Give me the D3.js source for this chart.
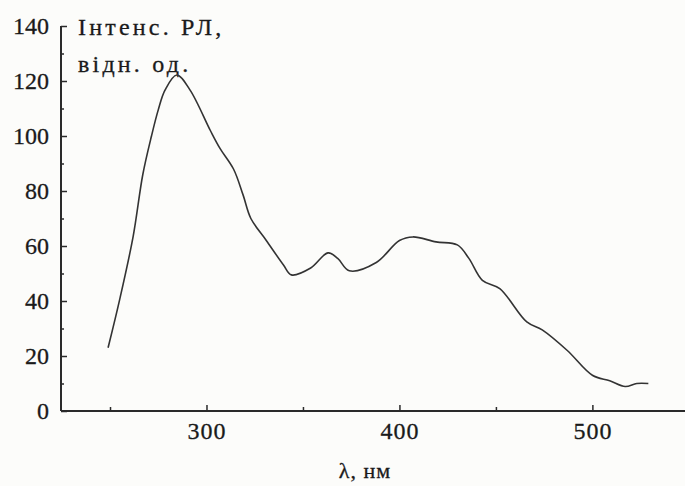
<!DOCTYPE html>
<html>
<head>
<meta charset="utf-8">
<script src="https://cdn.jsdelivr.net/npm/d3@7"></script>
<style>
  html, body { margin: 0; padding: 0; background: #fcfcfa; }
  svg text { font-family: "Liberation Serif", "DejaVu Serif", serif; fill: #1a1a1a; }
</style>
</head>
<body>
<svg id="chart" width="685" height="486"></svg>
<script>
// spectrum: wavelength (nm) and intensity (rel. units)
var wavelengths = [249, 255, 262, 267, 271.5, 275, 278.5, 284.6, 291.5, 302, 307, 314, 319, 323,
                   331, 340, 344, 354, 363, 368, 374, 388, 400, 407, 419, 430, 436, 443,
                   452, 466, 474, 487, 500, 509, 517, 523, 529];
var intensity = [23, 40.5, 63.5, 86, 100, 109.5, 116.7, 122.2, 116.7, 102, 95.5, 88, 78.5, 70,
                 62, 53, 49.5, 52, 57.5, 55.5, 51, 54, 62, 63.3, 61.5, 60.4, 55.5, 47.5,
                 44.5, 32.4, 29.5, 22, 13, 11, 8.9, 10, 10];
var xTicks = [300, 400, 500];
var xMinorTicks = [250, 350, 450];
var yTicks = [0, 20, 40, 60, 80, 100, 120, 140];
var yMinorTicks = [10, 30, 50, 70, 90, 110, 130];
var yTitle = ['Інтенс. РЛ,', 'відн. од.'];
var xTitle = 'λ, нм';

var svg = d3.select('#chart');
var x = d3.scaleLinear().domain([224.6, 548]).range([61, 685]);
var y = d3.scaleLinear().domain([0, 140]).range([411, 26]);

var ink = '#2a2a2a';

// axis lines
svg.append('line')
    .attr('x1', 61).attr('x2', 61).attr('y1', y(140)).attr('y2', y(0))
    .attr('stroke', ink).attr('stroke-width', 2);
svg.append('line')
    .attr('x1', 61).attr('x2', 685).attr('y1', y(0)).attr('y2', y(0))
    .attr('stroke', ink).attr('stroke-width', 2);

function styleAxis(g) {
  g.select('.domain').remove();
  g.selectAll('.tick line').attr('stroke', ink).attr('stroke-width', 1.5);
  g.selectAll('.tick text').style('font-size', '24px').attr('fill', '#1a1a1a')
      .attr('stroke', '#1a1a1a').attr('stroke-width', 0.3);
}

var gy = svg.append('g').attr('transform', 'translate(61,0)')
    .call(d3.axisLeft(y).tickValues(yTicks).tickSize(-6).tickPadding(12));
styleAxis(gy);
svg.append('g').attr('transform', 'translate(61,0)')
    .call(d3.axisLeft(y).tickValues(yMinorTicks).tickSize(-3).tickFormat(''))
    .call(styleAxis);

var gx = svg.append('g').attr('transform', 'translate(0,' + y(0) + ')')
    .call(d3.axisBottom(x).tickValues(xTicks).tickSize(-6).tickPadding(11));
styleAxis(gx);
gx.selectAll('.tick text').style('letter-spacing', '1px');
svg.append('g').attr('transform', 'translate(0,' + y(0) + ')')
    .call(d3.axisBottom(x).tickValues(xMinorTicks).tickSize(-4).tickFormat(''))
    .call(styleAxis);

// titles
svg.selectAll('.ytitle').data(yTitle).enter().append('text')
    .attr('x', 78)
    .attr('y', function(d, i) { return 35 + i * 37; })
    .style('font-size', '24px')
    .style('letter-spacing', '3.2px')
    .attr('stroke', '#1a1a1a').attr('stroke-width', 0.3)
    .text(function(d) { return d; });

svg.append('text')
    .attr('x', 365).attr('y', 478)
    .attr('text-anchor', 'middle')
    .style('font-size', '22px')
    .style('letter-spacing', '1px')
    .attr('stroke', '#1a1a1a').attr('stroke-width', 0.3)
    .text(xTitle);

// spectrum curve
var pts = wavelengths.map(function(w, i) { return [w, intensity[i]]; });
var line = d3.line()
    .x(function(d) { return x(d[0]); })
    .y(function(d) { return y(d[1]); })
    .curve(d3.curveCatmullRom.alpha(0.5));

svg.append('path')
    .datum(pts)
    .attr('d', line)
    .attr('fill', 'none')
    .attr('stroke', '#333')
    .attr('stroke-width', 1.6);
</script>
</body>
</html>
